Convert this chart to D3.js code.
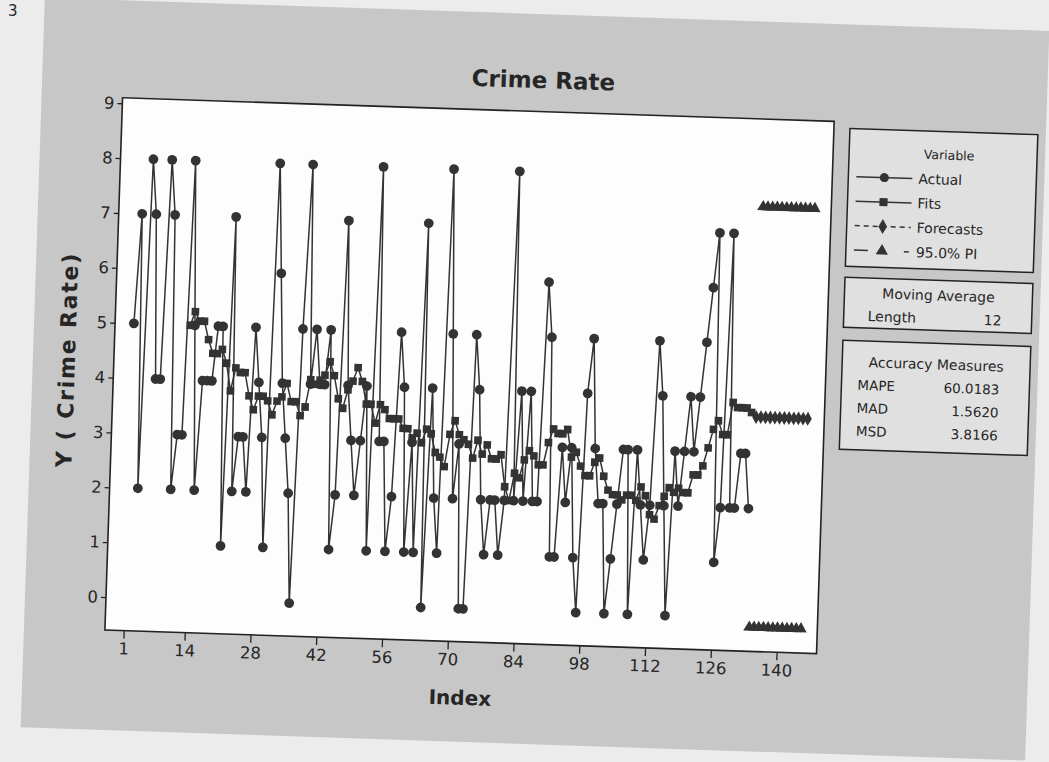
<!DOCTYPE html>
<html>
<head>
<meta charset="utf-8">
<script src="https://cdn.jsdelivr.net/npm/d3@7"></script>
<style>
  body { margin: 0; background: #ececec; }
  text { font-family: "DejaVu Sans", sans-serif; fill: #262626; }
</style>
</head>
<body>
<svg id="chart" width="1049" height="762"></svg>
<script>
// Crime rate, actual values (index 1..133)
const actual = [
  5, 7, 2, 8, 7, 4, 4, 8, 7, 2, 3, 3, 8, 5, 2, 4, 4, 4, 5, 5,
  1, 7, 2, 3, 3, 2, 5, 4, 3, 1, 8, 6, 4, 3, 2, 0, 5, 8, 4, 5,
  4, 4, 5, 1, 2, 7, 4, 3, 2, 3, 4, 1, 8, 3, 3, 1, 2, 5, 4, 1,
  3, 1, 7, 0, 4, 2, 1, 8, 5, 2, 3, 0, 0, 5, 4, 2, 1, 2, 2, 1,
  2, 8, 2, 4, 2, 4, 2, 2, 6, 5, 1, 1, 3, 2, 3, 1, 0, 4, 5, 3,
  2, 2, 0, 1, 2, 3, 3, 0, 3, 2, 1, 2, 5, 4, 2, 0, 3, 2, 3, 4,
  3, 4, 5, 6, 7, 1, 2, 7, 2, 2, 3, 3, 2
];

// Moving average fits (length 12), start at index 13
const fitsStart = 13;
const fits = [
  5.00, 5.25, 5.08, 5.08, 4.75, 4.50, 4.50, 4.58, 4.33, 3.83,
  4.25, 4.17, 4.17, 3.75, 3.50, 3.75, 3.75, 3.67, 3.42, 3.67,
  3.75, 4.00, 3.67, 3.67, 3.42, 3.58, 4.08, 4.00, 4.08, 4.17,
  4.42, 4.17, 3.75, 3.58, 3.92, 4.08, 4.33, 4.08, 3.67, 3.67,
  3.33, 3.67, 3.58, 3.42, 3.42, 3.42, 3.25, 3.25, 3.08, 3.17,
  3.00, 3.25, 3.17, 2.83, 2.75, 2.58, 3.17, 3.42, 3.17, 3.08,
  3.00, 2.75, 3.08, 2.83, 3.00, 2.75, 2.75, 2.83, 2.25, 2.00,
  2.50, 2.42, 2.75, 2.92, 2.83, 2.67, 2.67, 3.08, 3.33, 3.25,
  3.25, 3.33, 2.83, 2.92, 2.67, 2.50, 2.50, 2.75, 2.83, 2.50,
  2.25, 2.17, 2.17, 2.08, 2.17, 2.17, 2.08, 2.33, 2.17, 1.83,
  1.75, 2.00, 2.17, 2.33, 2.25, 2.33, 2.25, 2.25, 2.58, 2.58,
  2.75, 3.08, 3.42, 3.58, 3.33, 3.33, 3.92, 3.83, 3.83, 3.83,
  3.75
];

// Forecasts and 95% prediction interval, index 134..145
const forecastStart = 134;
const forecasts = [3.67, 3.67, 3.67, 3.67, 3.67, 3.67, 3.67, 3.67, 3.67, 3.67, 3.67, 3.67];
const upperPI = [7.50, 7.50, 7.50, 7.50, 7.50, 7.50, 7.50, 7.50, 7.50, 7.50, 7.50, 7.50];
const lowerPI = [-0.16, -0.16, -0.16, -0.16, -0.16, -0.16, -0.16, -0.16, -0.16, -0.16, -0.16, -0.16];

const xTicks = [1, 14, 28, 42, 56, 70, 84, 98, 112, 126, 140];
const yTicks = [0, 1, 2, 3, 4, 5, 6, 7, 8, 9];

const accuracyLabels = ["MAPE", "MAD", "MSD"];
const accuracyValues = ["60.0183", "1.5620", "3.8166"];

const ink = "#333";

const svg = d3.select("#chart");

// corner mark of the page
svg.append("text").attr("x", 8).attr("y", 16).attr("font-size", 15).text("3");

// the scanned page is slightly tilted
const g = svg.append("g").attr("transform", "rotate(1.9,106,597)");

g.append("rect")
    .attr("x", 25).attr("y", 0)
    .attr("width", 1005).attr("height", 730)
    .attr("fill", "#c7c7c7");

// Scales
const x = d3.scaleLinear().domain([-3, 148.5]).range([106, 818]);
const y = d3.scaleLinear().domain([-0.6, 9.1]).range([630, 97.5]);

// Plot area
g.append("rect")
    .attr("x", 106).attr("y", 97.5)
    .attr("width", 712).attr("height", 532.5)
    .attr("fill", "#fdfdfd")
    .attr("stroke", "#222").attr("stroke-width", 1.6);

// Axes
const yAxis = g.append("g")
    .attr("transform", "translate(106,0)")
    .call(d3.axisLeft(y).tickValues(yTicks).tickSize(5).tickPadding(3));
const xAxis = g.append("g")
    .attr("transform", "translate(0,630)")
    .call(d3.axisBottom(x).tickValues(xTicks).tickSize(8).tickPadding(4));
[yAxis, xAxis].forEach(a => {
    a.select(".domain").remove();
    a.selectAll("line").attr("stroke", "#222").attr("stroke-width", 1.3);
    a.selectAll("text").attr("font-size", 16.5).attr("fill", "#262626")
        .attr("font-family", "DejaVu Sans, sans-serif");
});

// Titles
g.append("text").attr("x", 526).attr("y", 74)
    .attr("text-anchor", "middle").attr("font-size", 23).attr("font-weight", "bold")
    .text("Crime Rate");
g.append("text").attr("x", 463).attr("y", 693)
    .attr("text-anchor", "middle").attr("font-size", 20).attr("font-weight", "bold")
    .text("Index");
g.append("text")
    .attr("transform", "translate(67,361) rotate(-90)")
    .attr("text-anchor", "middle").attr("font-size", 22).attr("font-weight", "bold")
    .attr("letter-spacing", 1.8)
    .text("Y ( Crime Rate)");

// Series data as points
const actualPts = actual.map((v, i) => ({ i: i + 1, v: v }));
const fitPts = fits.map((v, i) => ({ i: i + fitsStart, v: v }));
const fcPts = forecasts.map((v, i) => ({ i: i + forecastStart, v: v }));
const upPts = upperPI.map((v, i) => ({ i: i + forecastStart, v: v }));
const loPts = lowerPI.map((v, i) => ({ i: i + forecastStart, v: v }));

const line = d3.line().x(d => x(d.i)).y(d => y(d.v));
const plot = g.append("g");

function drawSeries(pts, symbolType, size, dash) {
    plot.append("path")
        .datum(pts)
        .attr("d", line)
        .attr("fill", "none")
        .attr("stroke", ink)
        .attr("stroke-width", 1.5)
        .attr("stroke-dasharray", dash);
    plot.append("g").selectAll("path")
        .data(pts)
        .enter()
        .append("path")
        .attr("transform", d => `translate(${x(d.i)},${y(d.v)})`)
        .attr("d", d3.symbol().type(symbolType).size(size))
        .attr("fill", ink);
}

drawSeries(actualPts, d3.symbolCircle, 75, null);
drawSeries(fitPts, d3.symbolSquare, 58, null);
drawSeries(upPts, d3.symbolTriangle, 60, null);
drawSeries(loPts, d3.symbolTriangle, 60, null);
drawSeries(fcPts, d3.symbolDiamond, 55, "5,3");

// Legend boxes
const lx = 834, lw = 188;
const boxFill = "#e0e0e0";
function box(top, h) {
    g.append("rect").attr("x", lx).attr("y", top).attr("width", lw).attr("height", h)
        .attr("fill", boxFill).attr("stroke", "#222").attr("stroke-width", 1.5);
}

box(104, 138);
g.append("text").attr("x", lx + lw / 2 + 6).attr("y", 132)
    .attr("text-anchor", "middle").attr("font-size", 12.5).text("Variable");

const legendItems = [
    { name: "Actual", sym: d3.symbolCircle, dash: null },
    { name: "Fits", sym: d3.symbolSquare, dash: null },
    { name: "Forecasts", sym: d3.symbolDiamond, dash: "5,4" },
    { name: "95.0% PI", sym: d3.symbolTriangle, dash: "14,6,0,30,5,3" }
];
legendItems.forEach((it, k) => {
    const cy = 152 + k * 24.5;
    g.append("line").attr("x1", lx + 8).attr("x2", lx + 64)
        .attr("y1", cy).attr("y2", cy)
        .attr("stroke", ink).attr("stroke-width", 1.5)
        .attr("stroke-dasharray", it.dash);
    g.append("path").attr("transform", `translate(${lx + 36},${cy})`)
        .attr("d", d3.symbol().type(it.sym).size(65)).attr("fill", ink);
    g.append("text").attr("x", lx + 70).attr("y", cy + 5)
        .attr("font-size", 14).text(it.name);
});

box(253, 50);
g.append("text").attr("x", lx + lw / 2).attr("y", 273)
    .attr("text-anchor", "middle").attr("font-size", 14).text("Moving Average");
g.append("text").attr("x", lx + 24).attr("y", 296).attr("font-size", 14).text("Length");
g.append("text").attr("x", lx + 140).attr("y", 296).attr("font-size", 14).text("12");

box(316, 109);
g.append("text").attr("x", lx + lw / 2).attr("y", 342)
    .attr("text-anchor", "middle").attr("font-size", 14).text("Accuracy Measures");
accuracyLabels.forEach((lab, k) => {
    const by = 365 + k * 23;
    g.append("text").attr("x", lx + 16).attr("y", by).attr("font-size", 13.5).text(lab);
    g.append("text").attr("x", lx + 158).attr("y", by).attr("text-anchor", "end")
        .attr("font-size", 13.5).text(accuracyValues[k]);
});
</script>
</body>
</html>
